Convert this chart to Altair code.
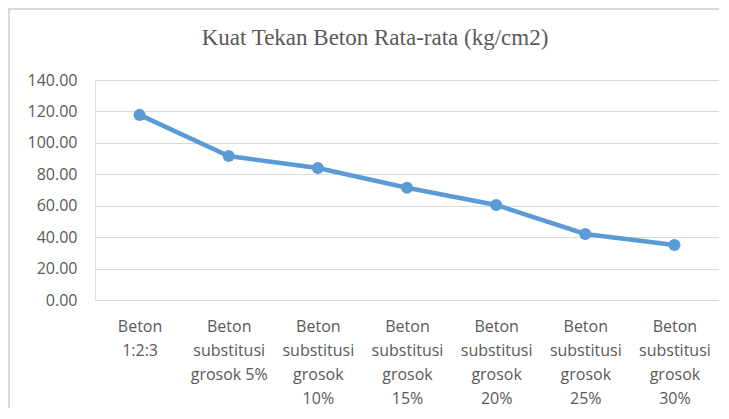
import altair as alt
import pandas as pd

categories = [
    "Beton|1:2:3",
    "Beton|substitusi|grosok 5%",
    "Beton|substitusi|grosok|10%",
    "Beton|substitusi|grosok|15%",
    "Beton|substitusi|grosok|20%",
    "Beton|substitusi|grosok|25%",
    "Beton|substitusi|grosok|30%",
]
values = [117.8, 91.6, 84.0, 71.4, 60.5, 42.0, 35.0]
y_ticks = [0, 20, 40, 60, 80, 100, 120, 140]
chart_title = "Kuat Tekan Beton Rata-rata (kg/cm2)"

df = pd.DataFrame({"cat": categories, "val": values})

TEXT = "#595959"
GRID = "#D9D9D9"
BLUE = "#5B9BD5"

x_enc = alt.X(
    "cat:N",
    sort=categories,
    scale=alt.Scale(paddingInner=0, paddingOuter=0),
    axis=alt.Axis(
        title=None,
        labelAngle=0,
        labelExpr="split(datum.label, '|')",
        labelFont="Open Sans",
        labelFontSize=16,
        labelColor=TEXT,
        labelLineHeight=24,
        labelPadding=18,
        labelBaseline="top",
        ticks=False,
        domainColor=GRID,
        grid=False,
    ),
)
y_enc = alt.Y(
    "val:Q",
    scale=alt.Scale(domain=[0, 140], nice=False),
    axis=alt.Axis(
        title=None,
        values=y_ticks,
        format=".2f",
        labelFont="Open Sans",
        labelFontSize=16,
        labelColor=TEXT,
        labelPadding=18,
        ticks=False,
        domain=False,
        gridColor=GRID,
        gridWidth=1,
    ),
)

base = alt.Chart(df)
line = base.mark_line(color=BLUE, strokeWidth=4.5).encode(x=x_enc, y=y_enc)
points = base.mark_point(filled=True, color=BLUE, size=145, opacity=1).encode(x=x_enc, y=y_enc)

one = alt.Chart(pd.DataFrame({"t": [chart_title]}))
border_top = one.mark_rule(color=GRID, strokeWidth=2).encode(
    x=alt.value(-87), x2=alt.value(700), y=alt.value(-71)
)
border_left = one.mark_rule(color=GRID, strokeWidth=2).encode(
    x=alt.value(-86), y=alt.value(-72), y2=alt.value(400)
)
title = one.mark_text(
    font="Liberation Serif", fontSize=23, color=TEXT, align="center", baseline="alphabetic"
).encode(x=alt.value(280), y=alt.value(-35), text="t:N")

chart = alt.layer(border_top, border_left, title, line, points).properties(
    width=624,
    height=220,
    autosize=alt.AutoSizeParams(type="none"),
    padding={"left": 87, "top": 72, "right": 0, "bottom": 108},
).configure_view(stroke=None).configure(background="white")

chart.save("out.html", embed_options={"renderer": "svg", "actions": False})
